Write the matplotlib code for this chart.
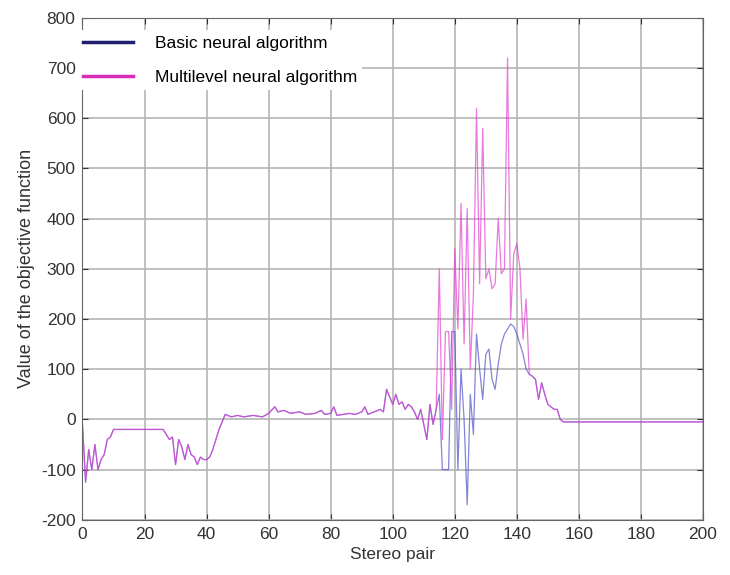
import numpy as np
import matplotlib
matplotlib.use("Agg")
import matplotlib.pyplot as plt
from matplotlib.lines import Line2D

plt.rcParams['font.family'] = ['Liberation Sans', 'DejaVu Sans']
plt.rcParams['axes.unicode_minus'] = False

# ==============================
# data
# ==============================

# shared part, stereo pairs 0..114
head_x = [0, 1, 2, 3, 4, 5, 6, 7, 8, 9, 10, 26, 27, 28, 29, 30, 31, 32, 33,
          34, 35, 36, 37, 38, 39, 40, 41, 42, 44, 46, 48, 50, 52, 55, 58, 60,
          62, 63, 65, 67, 70, 72, 75, 77, 78, 80, 81, 82, 84, 86, 88, 90, 91,
          92, 94, 96, 97, 98, 99, 100, 101, 102, 103, 104, 105, 106, 107, 108,
          109, 110, 111, 112, 113, 114]
head_y = [-10, -125, -60, -100, -50, -100, -80, -70, -40, -35, -20, -20, -30,
          -40, -35, -90, -40, -55, -80, -50, -70, -75, -90, -75, -80, -80, -75,
          -60, -20, 10, 5, 8, 5, 8, 5, 12, 25, 15, 18, 12, 15, 10, 12, 18, 10,
          12, 25, 8, 10, 12, 10, 15, 25, 10, 15, 20, 15, 60, 45, 30, 50, 30, 35,
          20, 30, 25, 15, 0, 20, -10, -40, 30, -10, 20]

# diverging part, 115..145
mid_x = list(range(115, 146))
basic_mid = [50, -100, -100, -100, 175, 175, -100, 100, 0, -170, 50, -30,
             170, 100, 40, 130, 140, 80, 60, 110, 150, 170, 180, 190, 185,
             170, 150, 130, 100, 90, 86]
multi_mid = [300, -40, 175, 175, 20, 340, 180, 430, 150, 420, 100, 250, 620,
             270, 580, 280, 300, 260, 270, 400, 290, 300, 720, 200, 330, 350,
             300, 160, 240, 90, 86]

# shared tail, 146..200
tail_x = [146, 147, 148, 149, 150, 151, 152, 153, 154, 155, 200]
tail_y = [80, 40, 73, 50, 30, 25, 20, 20, 0, -5, -5]

x = head_x + mid_x + tail_x
basic = head_y + basic_mid + tail_y
multi = head_y + multi_mid + tail_y

# ==============================
# plot
# ==============================

fig = plt.figure(figsize=(7.3, 5.75), dpi=100)
ax = fig.add_axes([0.113, 0.096, 0.85, 0.873])

ax.plot(x, basic, color='#5050c8', lw=0.9, alpha=0.7)
ax.plot(x, multi, color='#e040d0', lw=0.9, alpha=0.7)

ax.set_xlim(0, 200)
ax.set_ylim(-200, 800)
ax.set_xticks(np.arange(0, 201, 20))
ax.set_yticks(np.arange(-200, 801, 100))
ax.grid(True, color='#b4b4b4', lw=1.2)
ax.set_axisbelow(True)
ax.tick_params(direction='in', labelsize=12.5, colors='#333333', length=4,
               top=True, right=True, pad=5)
for s in ax.spines.values():
    s.set_color('#666666')

ax.set_xlabel("Stereo pair", fontsize=12.5, color='#333333', labelpad=4)
ax.set_ylabel("Value of the objective function", fontsize=13,
              color='#333333', labelpad=4)

handles = [Line2D([], [], color='#202070', lw=2.5),
           Line2D([], [], color='#d82cb8', lw=2.5)]
leg = ax.legend(handles, ["Basic neural algorithm",
                          "Multilevel neural algorithm"],
                loc='upper left', bbox_to_anchor=(-0.008, 0.975),
                fontsize=12.5, frameon=True, fancybox=False, framealpha=1,
                edgecolor='white', borderaxespad=0, borderpad=0.3,
                handlelength=2.9, handletextpad=1.25, labelspacing=1.1)
leg.get_frame().set_linewidth(0)

fig.savefig("out.png", dpi=100)
